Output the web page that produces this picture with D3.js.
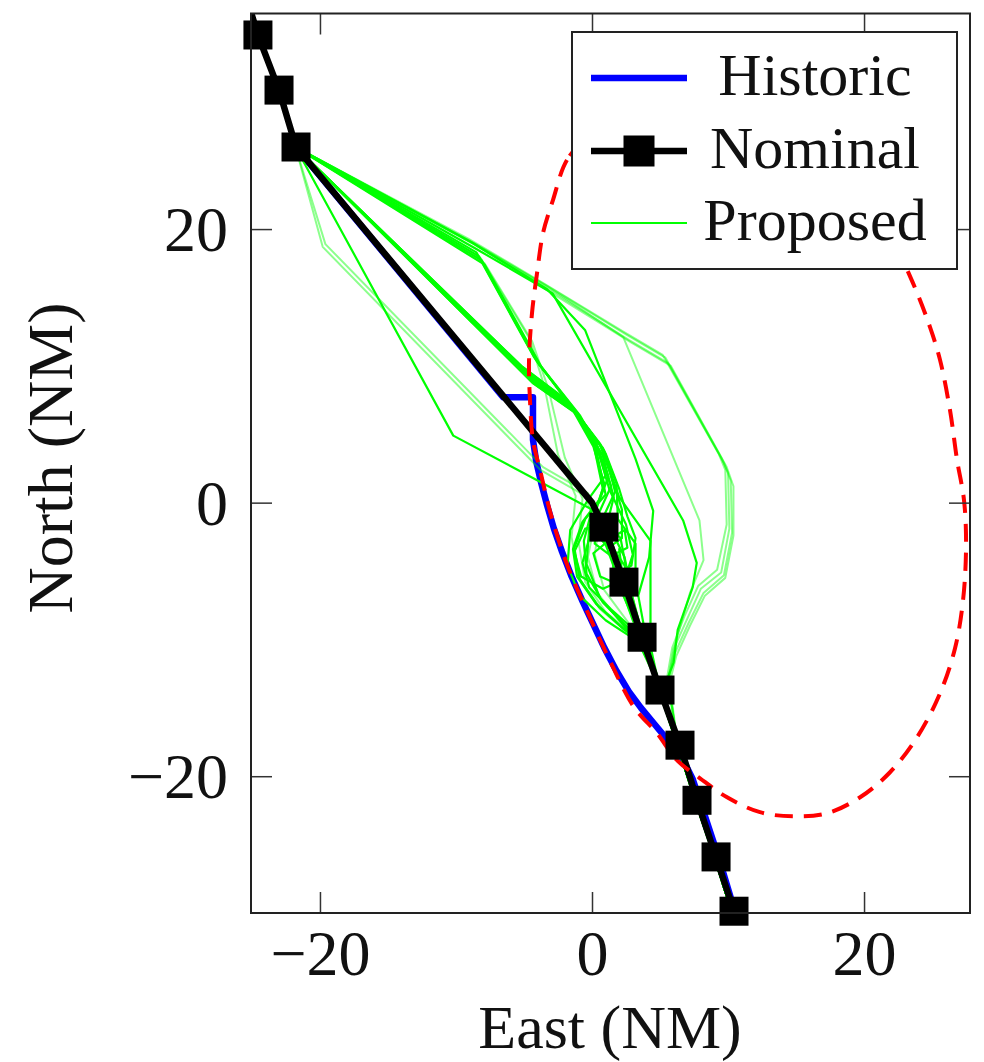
<!DOCTYPE html>
<html>
<head>
<meta charset="utf-8">
<script src="https://cdn.jsdelivr.net/npm/d3@7"></script>
<style>
  body { margin: 0; background: #fff; }
  svg { display: block; }
  text { font-family: "Liberation Serif", "Times New Roman", serif; fill: #111; }
</style>
</head>
<body>
<script>
// ---- data (NM east / north) ----
var xTicks = [-20, 0, 20],
    yTicks = [-20, 0, 20];

var legendLabels = ["Historic", "Nominal", "Proposed"];

// nominal track (line) and its waypoint markers
var nominalPath = [[-25.3, 36.6], [-24.56, 34.19], [-23.01, 30.16], [-21.76, 26.0], [0, 0],
    [0.88, -1.79], [2.35, -5.81], [3.68, -9.84], [5.0, -13.7], [6.47, -17.73],
    [7.72, -21.76], [9.12, -25.9], [10.44, -29.87]];
var nominalMarks = [[-24.56, 34.19], [-23.01, 30.16], [-21.76, 26.0],
    [0.88, -1.79], [2.35, -5.81], [3.68, -9.84], [5.0, -13.7], [6.47, -17.73],
    [7.72, -21.76], [9.12, -25.9], [10.44, -29.87]];

// historic track
var historic = [[-21.6, 25.8], [-6.54, 7.71], [-4.34, 7.71], [-4.34, 4.6], [-4.1, 3.0],
    [-3.75, 1.5], [-3.3, -0.2], [-2.8, -1.9], [-2.2, -3.6], [-1.5, -5.4], [-0.7, -7.2],
    [0.1, -8.9], [0.9, -10.6], [1.8, -12.3], [2.7, -13.8], [3.6, -15.0], [4.6, -16.2],
    [5.6, -17.4], [6.6, -18.6], [7.4, -20.2], [8.0, -22.0], [9.3, -25.9], [10.6, -30.2]];

// red dashed boundary
var boundary = [[-0.15, 26.87], [-1.84, 25.05], [-2.87, 22.12], [-3.6, 19.71], [-4.04, 16.78],
    [-4.41, 13.86], [-4.63, 10.42], [-4.56, 7.5], [-4.34, 4.57], [-3.82, 2.38], [-3.01, -0.91],
    [-1.76, -4.72], [-0.29, -8.08], [1.4, -11.74], [3.09, -14.95], [4.78, -16.86], [6.25, -18.83],
    [7.94, -20.15], [9.93, -21.54], [12.35, -22.63], [14.78, -22.93], [17.28, -22.71],
    [19.71, -21.54], [21.91, -19.71], [23.9, -17.15], [25.59, -13.93], [26.69, -10.64],
    [27.28, -7.13], [27.5, -3.11], [27.35, 0.18], [26.84, 3.11], [26.32, 6.76], [25.59, 10.42],
    [24.85, 12.83], [23.6, 16.05], [21.54, 20.29], [18.6, 24.68], [14.56, 27.97],
    [10.51, 29.43], [6.47, 29.43], [2.79, 28.34]];

// proposed tracks, drawn fully
var proposedSolid = [
  [[-21.8,26.0],[-8.3,18.0],[-4.1,10.4],[-1.4,6.9],[0.3,3.9],[1.0,0.6],[-0.5,-1.2],[-1.3,-3.3],[-0.9,-5.6],[0.5,-7.6],[2.4,-9.3],[3.7,-10.2],[4.4,-11.9],[4.9,-13.7],[6.3,-17.7],[7.6,-21.8],[9.0,-25.9],[10.3,-30.0]],
  [[-21.8,26.0],[-8.1,17.7],[-3.9,10.1],[-1.1,6.6],[0.5,3.6],[1.3,0.9],[2.5,-1.6],[3.0,-3.8],[2.4,-5.6],[0.8,-6.3],[-0.8,-5.4],[-1.3,-3.6],[-0.5,-1.9],[1.2,-1.6],[2.4,-4.0],[3.0,-7.0],[3.8,-10.0],[4.5,-12.2],[5.0,-13.8],[6.3,-17.8],[7.6,-21.8],[9.0,-25.9],[10.3,-30.0]],
  [[-21.8,26.0],[-7.9,17.4],[-3.7,9.9],[-0.9,6.4],[0.8,3.4],[1.6,0.4],[1.1,-1.6],[2.3,-5.8],[3.7,-9.9],[4.6,-12.4],[5.0,-13.9],[6.3,-17.8],[7.6,-21.8],[9.0,-25.9],[10.3,-30.0]],
  [[-21.8,26.0],[-8.5,18.3],[-4.3,10.7],[-1.6,7.1],[0.1,4.1],[0.9,1.4],[0.2,-0.9],[1.5,-4.4],[3.0,-8.6],[4.3,-11.6],[5.0,-13.7],[6.3,-17.7],[7.6,-21.8],[9.0,-25.9],[10.3,-30.0]],
  [[-21.8,26.0],[-8.6,18.6],[-2.9,15.3],[6.7,-1.3],[7.7,-4.4],[7.4,-6.2],[6.3,-9.3],[6.0,-11.7],[5.1,-14.0],[6.3,-17.8],[7.6,-21.8],[9.0,-25.9],[10.3,-30.0]],
  [[-21.8,26.0],[-8.8,19.0],[-3.3,15.6],[-0.5,12.6],[3.2,3.2],[4.5,-0.6],[4.2,-4.0],[3.4,-6.8],[4.0,-10.0],[4.8,-12.8],[5.1,-14.0],[6.3,-17.8],[7.6,-21.8],[9.0,-25.9],[10.3,-30.0]],
  [[-21.8,26.0],[-5.0,9.7],[-1.8,7.3],[0.2,4.6],[1.2,1.9],[0.6,0.3],[-0.7,-1.4],[-1.4,-3.4],[-1.1,-5.4],[0.3,-7.4],[2.3,-9.2],[3.8,-10.0],[4.5,-11.9],[5.0,-13.7],[6.3,-17.7],[7.6,-21.8],[9.0,-25.9],[10.3,-30.0]],
  [[-21.8,26.0],[-4.8,9.4],[-1.5,6.9],[0.6,4.2],[1.5,1.7],[2.2,-0.5],[2.2,-2.6],[1.2,-3.3],[0.5,-2.5],[1.0,-1.4],[2.1,-2.6],[2.8,-6.3],[3.7,-9.8],[4.5,-12.2],[5.0,-13.8],[6.3,-17.8],[7.6,-21.8],[9.0,-25.9],[10.3,-30.0]],
  [[-21.8,26.0],[-4.5,9.0],[-1.2,6.6],[0.8,4.0],[1.8,1.4],[1.9,-1.2],[3.2,-3.0],[3.2,-5.0],[2.0,-6.0],[0.6,-5.4],[0.1,-3.7],[1.2,-2.8],[2.4,-4.6],[3.2,-8.2],[4.2,-11.3],[4.9,-13.7],[6.3,-17.7],[7.6,-21.8],[9.0,-25.9],[10.3,-30.0]],
  [[-21.8,26.0],[-5.2,10.0],[-2.0,7.6],[0.0,4.8],[0.8,1.0],[-0.2,-1.8],[-0.4,-4.5],[0.6,-7.0],[2.2,-8.8],[3.6,-10.6],[4.5,-12.5],[5.0,-13.9],[6.3,-17.8],[7.6,-21.8],[9.0,-25.9],[10.3,-30.0]],
  [[-21.8,26.0],[-4.6,9.2],[-1.4,6.9],[0.6,4.3],[2.0,0.4],[4.3,-2.8],[4.3,-10.5],[5.0,-13.7],[6.3,-17.7],[7.6,-21.8],[9.0,-25.9],[10.3,-30.0]],
  [[-21.8,26.0],[-4.3,8.7],[-1.0,6.4],[1.0,3.6],[2.0,1.0],[2.6,-1.0],[3.2,-2.6],[2.9,-4.6],[2.2,-5.0],[2.0,-3.4],[2.3,-5.8],[3.6,-9.6],[4.6,-12.3],[5.0,-13.8],[6.3,-17.8],[7.6,-21.8],[9.0,-25.9],[10.3,-30.0]],
  [[-21.8,26.0],[-4.9,9.6],[-1.6,7.1],[0.3,4.4],[1.0,2.0],[-0.3,0.2],[-1.6,-2.0],[-1.8,-4.6],[-0.9,-6.8],[1.0,-8.6],[3.0,-9.9],[4.2,-11.4],[4.9,-13.6],[6.3,-17.7],[7.6,-21.8],[9.0,-25.9],[10.3,-30.0]],
  [[-21.8,26.0],[-5.1,9.9],[-1.9,7.5],[0.1,4.7],[1.4,1.2],[0.4,-1.0],[0.2,-3.0],[1.4,-3.9],[2.6,-3.3],[2.4,-2.0],[1.4,-2.6],[1.6,-5.2],[3.1,-8.6],[4.3,-11.6],[5.0,-13.8],[6.3,-17.8],[7.6,-21.8],[9.0,-25.9],[10.3,-30.0]],
  [[-21.8,26.0],[-4.4,8.8],[-1.1,6.5],[0.9,3.8],[1.7,0.8],[0.9,-0.9],[-0.2,-2.6],[-0.7,-4.4],[-0.2,-6.2],[1.4,-7.8],[3.2,-9.4],[4.4,-11.4],[5.0,-13.7],[6.3,-17.7],[7.6,-21.8],[9.0,-25.9],[10.3,-30.0]],
  [[-21.8,26.0],[-10.2,4.9],[0.0,-0.5],[-0.6,-2.8],[-0.4,-5.2],[0.8,-7.3],[2.5,-9.0],[3.8,-10.4],[4.6,-12.6],[5.0,-13.8],[6.3,-17.8],[7.6,-21.8],[9.0,-25.9],[10.3,-30.0]]
];

// proposed tracks, drawn pale
var proposedFaint = [
  [[-21.8,26.0],[-8.9,19.1],[-3.4,15.9],[2.5,12.3],[5.4,10.6],[9.5,3.3],[10.0,2.2],[10.1,-1.9],[9.5,-5.1],[8.0,-6.3],[7.0,-8.5],[6.0,-10.7],[5.6,-13.0],[6.3,-17.7],[7.6,-21.8],[9.0,-25.9],[10.3,-30.0]],
  [[-21.8,26.0],[-8.7,18.9],[-3.2,15.6],[2.7,11.9],[5.6,10.2],[9.7,2.9],[10.2,1.6],[10.3,-2.2],[9.7,-5.3],[8.2,-6.6],[7.1,-8.8],[6.1,-11.0],[5.6,-13.1],[6.3,-17.7],[7.6,-21.8],[9.0,-25.9],[10.3,-30.0]],
  [[-21.8,26.0],[-9.1,19.3],[-3.5,16.0],[2.3,12.5],[5.2,10.8],[9.3,3.6],[9.8,2.4],[9.9,-1.6],[9.2,-4.9],[7.8,-6.1],[6.8,-8.3],[5.9,-10.6],[5.5,-12.9],[6.3,-17.7],[7.6,-21.8],[9.0,-25.9],[10.3,-30.0]],
  [[-21.8,26.0],[-8.5,18.8],[-3.1,15.4],[2.9,11.7],[5.8,10.0],[9.9,2.6],[10.4,1.2],[10.4,-2.4],[9.8,-5.5],[8.3,-6.8],[7.2,-9.0],[6.2,-11.2],[5.7,-13.2],[6.3,-17.7],[7.6,-21.8],[9.0,-25.9],[10.3,-30.0]],
  [[-21.8,26.0],[-8.6,18.9],[-3.3,15.8],[2.3,12.1],[7.9,-1.3],[8.2,-4.2],[7.2,-6.6],[6.2,-10.0],[5.6,-13.0],[6.3,-17.7],[7.6,-21.8],[9.0,-25.9],[10.3,-30.0]],
  [[-21.8,26.0],[-8.2,17.9],[-4.6,12.0],[-3.5,8.5],[-2.5,3.5],[-1.2,0.5],[-1.5,-2.5],[-1.0,-5.5],[0.6,-7.8],[2.6,-9.5],[4.0,-10.8],[4.8,-13.0],[5.1,-14.0],[6.3,-17.8],[7.6,-21.8],[9.0,-25.9],[10.3,-30.0]],
  [[-21.8,26.0],[-7.9,17.5],[-4.4,11.8],[-3.2,8.3],[-2.0,3.3],[-0.7,0.3],[-1.0,-2.8],[-0.5,-5.8],[1.0,-8.0],[3.0,-9.6],[4.3,-11.2],[5.0,-13.6],[6.3,-17.7],[7.6,-21.8],[9.0,-25.9],[10.3,-30.0]],
  [[-21.8,26.0],[-19.8,18.7],[-3.8,2.4],[-0.5,0.5],[0.2,-1.5],[-0.3,-4.0],[0.4,-6.6],[2.0,-8.6],[3.5,-10.3],[4.5,-12.4],[5.0,-13.8],[6.3,-17.8],[7.6,-21.8],[9.0,-25.9],[10.3,-30.0]],
  [[-21.8,26.0],[-19.6,18.9],[-3.6,2.6],[-0.3,0.7],[0.6,-1.2],[0.2,-3.8],[0.9,-6.4],[2.4,-8.4],[3.7,-10.2],[4.6,-12.4],[5.0,-13.8],[6.3,-17.8],[7.6,-21.8],[9.0,-25.9],[10.3,-30.0]]
];

// ---- chart ----
var W = 984, H = 1062,
    plot = {left: 251, top: 13.5, right: 970, bottom: 913};

var svg = d3.select("body").append("svg").attr("width", W).attr("height", H);
svg.append("rect").attr("width", W).attr("height", H).attr("fill", "#fff");

var x = d3.scaleLinear().domain([-25.07, 27.79]).range([plot.left, plot.right]);
var y = d3.scaleLinear().domain([-30.0, 35.76]).range([plot.bottom, plot.top]);

var line = d3.line().x(function(d) { return x(d[0]); }).y(function(d) { return y(d[1]); });
var loop = d3.line().x(function(d) { return x(d[0]); }).y(function(d) { return y(d[1]); })
    .curve(d3.curveCatmullRomClosed);

svg.append("clipPath").attr("id", "clip")
    .append("rect")
    .attr("x", plot.left).attr("y", plot.top)
    .attr("width", plot.right - plot.left).attr("height", plot.bottom - plot.top);

var g = svg.append("g").attr("clip-path", "url(#clip)");

g.append("path").datum(historic)
    .attr("d", line).attr("fill", "none")
    .attr("stroke", "#0000ff").attr("stroke-width", 6.5).attr("stroke-linejoin", "round");

g.selectAll(".faint").data(proposedFaint).enter().append("path")
    .attr("class", "faint")
    .attr("d", line).attr("fill", "none")
    .attr("stroke", "#00ff00").attr("stroke-opacity", 0.45)
    .attr("stroke-width", 2).attr("stroke-linejoin", "round");

g.selectAll(".solid").data(proposedSolid).enter().append("path")
    .attr("class", "solid")
    .attr("d", line).attr("fill", "none")
    .attr("stroke", "#00ff00")
    .attr("stroke-width", 2.2).attr("stroke-linejoin", "round");

g.append("path").datum(nominalPath)
    .attr("d", line).attr("fill", "none")
    .attr("stroke", "#000").attr("stroke-width", 6.5).attr("stroke-linejoin", "round");

g.append("path").datum(boundary)
    .attr("d", loop).attr("fill", "none")
    .attr("stroke", "#ff0000").attr("stroke-width", 4)
    .attr("stroke-dasharray", "18,11");

// markers are not clipped
var ms = 29;
svg.selectAll(".mark").data(nominalMarks).enter().append("rect")
    .attr("class", "mark")
    .attr("x", function(d) { return x(d[0]) - ms / 2; })
    .attr("y", function(d) { return y(d[1]) - ms / 2; })
    .attr("width", ms).attr("height", ms)
    .attr("fill", "#000");

// axes
var tick = 21, fs = 64;
var ax = {
    bottom: svg.append("g").attr("transform", "translate(0," + plot.bottom + ")")
        .call(d3.axisBottom(x).tickValues(xTicks).tickSizeInner(-tick).tickSizeOuter(0)),
    top: svg.append("g").attr("transform", "translate(0," + plot.top + ")")
        .call(d3.axisTop(x).tickValues(xTicks).tickSizeInner(-tick).tickSizeOuter(0).tickFormat("")),
    left: svg.append("g").attr("transform", "translate(" + plot.left + ",0)")
        .call(d3.axisLeft(y).tickValues(yTicks).tickSizeInner(-tick).tickSizeOuter(0)),
    right: svg.append("g").attr("transform", "translate(" + plot.right + ",0)")
        .call(d3.axisRight(y).tickValues(yTicks).tickSizeInner(-tick).tickSizeOuter(0).tickFormat(""))
};
for (var k in ax) {
    ax[k].select(".domain").remove();
    ax[k].selectAll(".tick line").attr("stroke", "#333").attr("stroke-width", 1.5);
    ax[k].selectAll("text").attr("font-size", fs).attr("font-family", null).attr("fill", "#111");
}
ax.bottom.selectAll("text").attr("y", 62).attr("dy", null);
ax.left.selectAll("text").attr("x", -23).attr("dy", "0.34em");

svg.append("rect")
    .attr("x", plot.left).attr("y", plot.top)
    .attr("width", plot.right - plot.left).attr("height", plot.bottom - plot.top)
    .attr("fill", "none").attr("stroke", "#222").attr("stroke-width", 2);

svg.append("text").attr("x", 610).attr("y", 1048)
    .attr("text-anchor", "middle").attr("font-size", 62).text("East (NM)");
svg.append("text").attr("transform", "translate(72,458) rotate(-90)")
    .attr("text-anchor", "middle").attr("font-size", fs).text("North (NM)");

// legend
var lg = svg.append("g");
lg.append("rect").attr("x", 572).attr("y", 32).attr("width", 385).attr("height", 237)
    .attr("fill", "#fff").attr("stroke", "#222").attr("stroke-width", 2);
var rows = [
    {c: "#0000ff", w: 6.5, y: 78},
    {c: "#000", w: 6.5, y: 151, mark: true},
    {c: "#00ff00", w: 2, y: 223}
];
rows.forEach(function(r, i) {
    lg.append("line").attr("x1", 591).attr("x2", 687).attr("y1", r.y).attr("y2", r.y)
        .attr("stroke", r.c).attr("stroke-width", r.w);
    if (r.mark)
        lg.append("rect").attr("x", 639 - 15.5).attr("y", r.y - 15.5)
            .attr("width", 31).attr("height", 31).attr("fill", "#000");
    lg.append("text").attr("x", 815).attr("y", r.y + 17)
        .attr("text-anchor", "middle").attr("font-size", 60).text(legendLabels[i]);
});
</script>
</body>
</html>
